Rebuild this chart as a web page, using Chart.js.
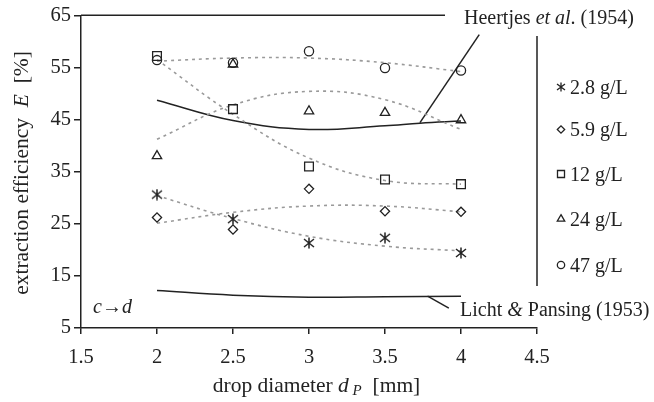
<!DOCTYPE html>
<html>
<head>
<meta charset="utf-8">
<script src="https://cdn.jsdelivr.net/npm/chart.js@4.4.1/dist/chart.umd.min.js"></script>
<style>
  html, body { margin: 0; padding: 0; background: #fff; }
  #wrap { width: 654px; height: 402px; }
</style>
</head>
<body>
<div id="wrap"><canvas id="eff-chart" width="654" height="402"></canvas></div>
<script>
// drop diameter [mm]
const diameters = [2, 2.5, 3, 3.5, 4];

// measured extraction efficiency E [%] per concentration
const seriesNames = ['2.8 g/L', '5.9 g/L', '12 g/L', '24 g/L', '47 g/L'];
const e28 = [30.6, 25.9, 21.3, 22.3, 19.4];
const e59 = [26.2, 23.9, 31.7, 27.4, 27.3];
const e12 = [57.2, 47.0, 36.0, 33.5, 32.6];
const e24 = [38.0, 55.6, 46.6, 46.3, 44.9];
const e47 = [56.4, 55.9, 58.1, 54.9, 54.4];

// dotted trend curves
const t28 = [30.4, 26.0, 22.6, 20.7, 19.8];
const t59 = [25.1, 27.2, 28.4, 28.4, 27.3];
const t12 = [56.5, 46.0, 37.6, 33.3, 32.6];
const t24 = [41.2, 47.8, 50.4, 48.8, 43.1];
const t47 = [56.2, 56.8, 56.8, 55.9, 54.2];

// model curves
const heertjesX = [2, 2.5, 3, 3.5, 3.73, 4];
const heertjesE = [48.7, 44.8, 43.1, 43.8, 44.3, 44.7];
const heertjesLeadX = [3.73, 4.12];
const heertjesLeadE = [44.4, 61.3];
const lichtX = [2, 2.5, 3, 3.5, 4];
const lichtE = [12.2, 11.3, 10.9, 11.0, 11.1];
const lichtLeadX = [3.78, 3.92];
const lichtLeadE = [11.1, 8.8];

const xTicks = [1.5, 2, 2.5, 3, 3.5, 4, 4.5];
const yTicks = [5, 15, 25, 35, 45, 55, 65];

const SERIF = '"Liberation Serif", "Times New Roman", serif';
const INK = '#222';

function pts(xs, ys) {
  return xs.map((x, i) => ({ x: x, y: ys[i] }));
}

// asterisk marker: vertical bar + X
function makeAsterisk(size, lw) {
  const c = document.createElement('canvas');
  c.width = size; c.height = size;
  const g = c.getContext('2d');
  const m = size / 2;
  g.strokeStyle = INK;
  g.lineWidth = lw;
  g.beginPath();
  g.moveTo(m, 0.5); g.lineTo(m, size - 0.5);
  g.moveTo(1, 2); g.lineTo(size - 1, size - 2);
  g.moveTo(size - 1, 2); g.lineTo(1, size - 2);
  g.stroke();
  return c;
}
const asterisk = makeAsterisk(12, 1.5);
const asteriskSmall = makeAsterisk(10, 1.3);

const markerStyles = [asterisk, 'rectRot', 'rect', 'triangle', 'circle'];
const markerRadius = [5, 4.6, 6.2, 5.4, 4.6];
const measured = [e28, e59, e12, e24, e47];
const trends = [t28, t59, t12, t24, t47];

let datasets = [];

measured.forEach((vals, i) => {
  datasets.push({
    label: seriesNames[i],
    data: pts(diameters, vals),
    showLine: false,
    pointStyle: markerStyles[i],
    pointRadius: markerRadius[i],
    pointBorderColor: INK,
    pointBackgroundColor: 'rgba(0,0,0,0)',
    pointBorderWidth: 1.3
  });
});

trends.forEach((vals) => {
  datasets.push({
    data: pts(diameters, vals),
    borderColor: '#9a9a9a',
    borderWidth: 1.6,
    borderDash: [3, 4],
    pointRadius: 0,
    tension: 0.4
  });
});

[[heertjesX, heertjesE, 0.4], [heertjesLeadX, heertjesLeadE, 0],
 [lichtX, lichtE, 0.4], [lichtLeadX, lichtLeadE, 0]].forEach((c) => {
  datasets.push({
    data: pts(c[0], c[1]),
    borderColor: INK,
    borderWidth: 1.5,
    pointRadius: 0,
    tension: c[2]
  });
});

// draw a run of text pieces (some italic) starting at x
function drawRuns(ctx, runs, x, y) {
  runs.forEach((r) => {
    ctx.font = r.font;
    ctx.fillText(r.t, x, y + (r.dy || 0));
    x += ctx.measureText(r.t).width;
  });
  return x;
}
function runsWidth(ctx, runs) {
  let w = 0;
  runs.forEach((r) => { ctx.font = r.font; w += ctx.measureText(r.t).width; });
  return w;
}

function drawMarker(ctx, style, x, y, r) {
  ctx.save();
  ctx.strokeStyle = INK;
  ctx.lineWidth = 1.3;
  ctx.beginPath();
  if (style === 'circle') {
    ctx.arc(x, y, r, 0, Math.PI * 2);
  } else if (style === 'rect') {
    const s = r * Math.SQRT1_2;
    ctx.rect(x - s, y - s, 2 * s, 2 * s);
  } else if (style === 'rectRot') {
    ctx.moveTo(x - r, y); ctx.lineTo(x, y - r); ctx.lineTo(x + r, y); ctx.lineTo(x, y + r); ctx.closePath();
  } else if (style === 'triangle') {
    for (let k = 0; k < 3; k++) {
      const a = k * 2 * Math.PI / 3;
      const px = x + Math.sin(a) * r, py = y - Math.cos(a) * r;
      if (k === 0) ctx.moveTo(px, py); else ctx.lineTo(px, py);
    }
    ctx.closePath();
  } else {
    ctx.restore();
    ctx.drawImage(asteriskSmall, x - asteriskSmall.width / 2, y - asteriskSmall.height / 2);
    return;
  }
  ctx.stroke();
  ctx.restore();
}

const decorations = {
  id: 'decorations',
  afterDraw(chart) {
    const ctx = chart.ctx;
    const a = chart.chartArea;
    const f20 = '20px ' + SERIF;
    const i20 = 'italic 20px ' + SERIF;
    const fT = '21.5px ' + SERIF;
    const iT = 'italic 21.5px ' + SERIF;
    ctx.save();
    ctx.fillStyle = INK;
    ctx.strokeStyle = INK;
    ctx.lineWidth = 1.5;

    // partial frame: top and right
    ctx.beginPath();
    ctx.moveTo(a.left, a.top); ctx.lineTo(445, a.top);
    ctx.moveTo(a.right, 36); ctx.lineTo(a.right, 286);
    ctx.stroke();

    ctx.textBaseline = 'alphabetic';
    ctx.textAlign = 'left';
    drawRuns(ctx, [{ t: 'Heertjes ', font: f20 }, { t: 'et al', font: i20 }, { t: '. (1954)', font: f20 }], 464, 23.5);
    drawRuns(ctx, [{ t: 'Licht ', font: f20 }, { t: '&', font: i20 }, { t: ' Pansing (1953)', font: f20 }], 460, 316);
    drawRuns(ctx, [{ t: 'c', font: i20 }, { t: '\u2192', font: f20 }, { t: 'd', font: i20 }], 93, 312.5);

    // legend
    const rows = [87, 129.5, 174, 219, 265];
    seriesNames.forEach((name, i) => {
      drawMarker(ctx, markerStyles[i], 561, rows[i], markerRadius[i] * 0.8);
      ctx.font = f20;
      ctx.fillText(name, 570, rows[i] + 6.5);
    });

    // x title
    const xr = [{ t: 'drop diameter ', font: fT }, { t: 'd', font: iT },
                { t: ' P', font: 'italic 15px ' + SERIF, dy: 3 }, { t: '  [mm]', font: fT }];
    drawRuns(ctx, xr, 316.5 - runsWidth(ctx, xr) / 2, 391.5);

    // y title
    const yr = [{ t: 'extraction efficiency  ', font: fT }, { t: 'E', font: iT }, { t: '  [%]', font: fT }];
    ctx.translate(28, 173);
    ctx.rotate(-Math.PI / 2);
    drawRuns(ctx, yr, -runsWidth(ctx, yr) / 2, 0);
    ctx.restore();
  }
};

window.addEventListener('DOMContentLoaded', () => {
  const box = document.getElementById('eff-chart');
  new Chart(box, {
    type: 'line',
    data: { datasets: datasets },
    options: {
      responsive: false,
      animation: false,
      layout: { padding: { top: 14, right: 117, left: 0, bottom: 0 } },
      plugins: { legend: { display: false }, tooltip: { enabled: false } },
      scales: {
        x: {
          type: 'linear',
          min: xTicks[0],
          max: xTicks[xTicks.length - 1],
          afterFit: (s) => { s.height = 74; },
          afterBuildTicks: (s) => { s.ticks = xTicks.map((v) => ({ value: v })); },
          ticks: {
            color: INK,
            padding: 11,
            font: { family: SERIF, size: 20.5 },
            callback: (v) => String(v)
          },
          grid: { drawOnChartArea: false, drawTicks: true, tickLength: 6, color: INK, lineWidth: 1.5 },
          border: { display: true, color: INK, width: 1.5 }
        },
        y: {
          min: yTicks[0],
          max: yTicks[yTicks.length - 1],
          afterFit: (s) => { s.width = 81; },
          afterBuildTicks: (s) => { s.ticks = yTicks.map((v) => ({ value: v })); },
          ticks: {
            color: INK,
            padding: 3,
            font: { family: SERIF, size: 20.5 },
            callback: (v) => String(v)
          },
          grid: { drawOnChartArea: false, drawTicks: true, tickLength: 7, color: INK, lineWidth: 1.5 },
          border: { display: true, color: INK, width: 1.5 }
        }
      }
    },
    plugins: [decorations]
  });
});
</script>
</body>
</html>
